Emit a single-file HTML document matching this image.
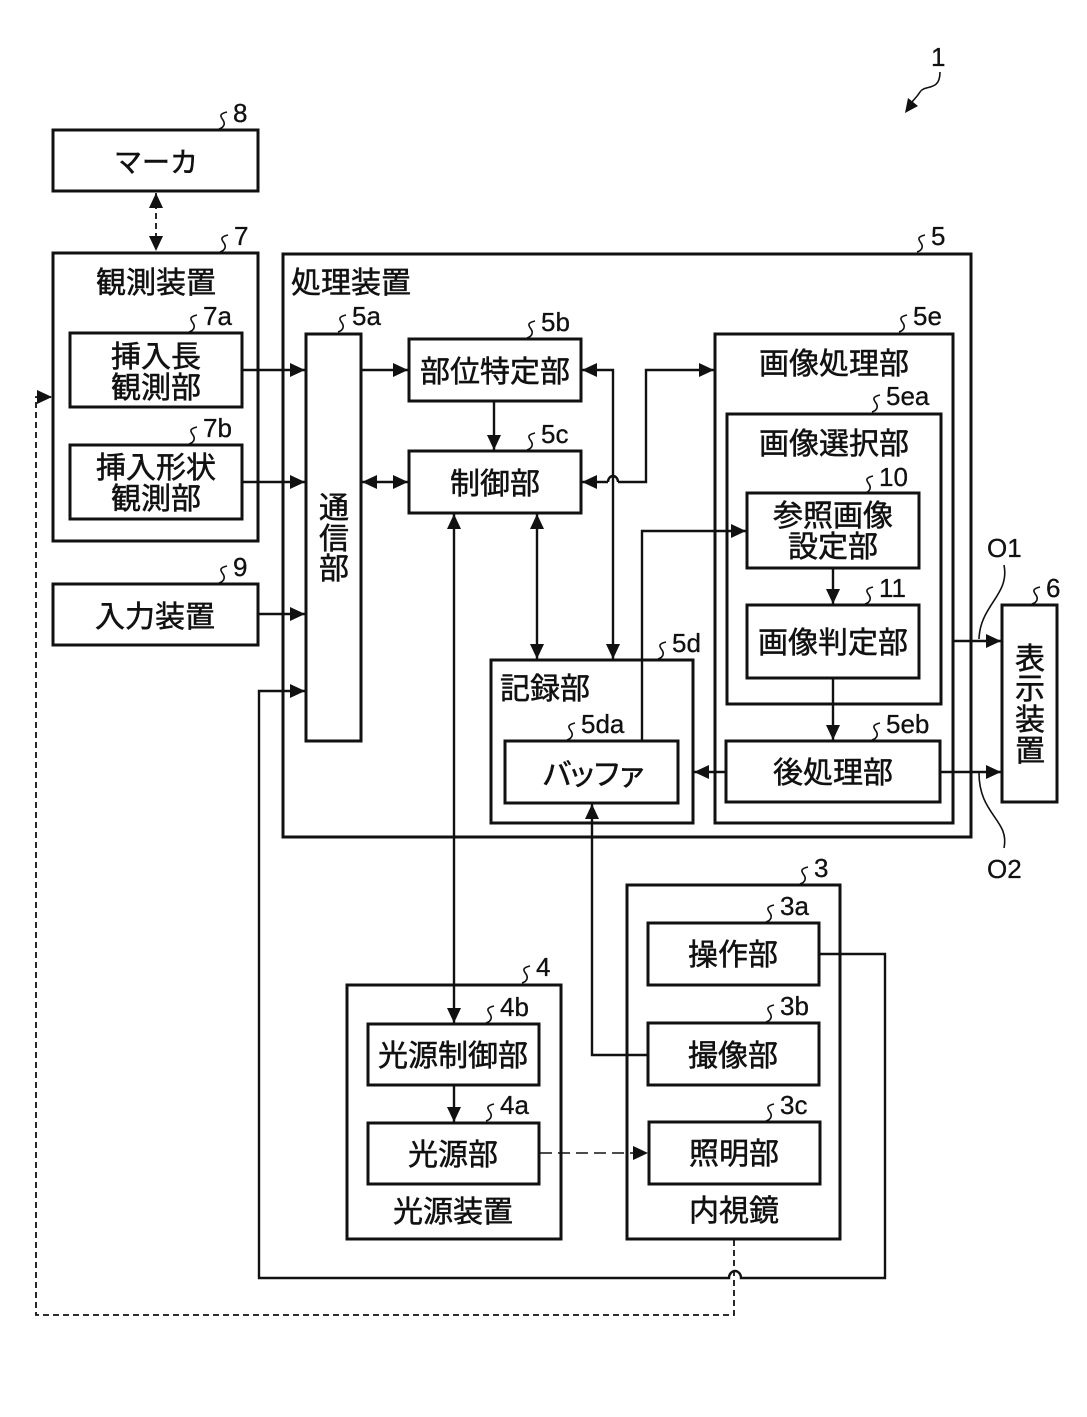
<!DOCTYPE html>
<html lang="ja"><head><meta charset="utf-8"><style>
html,body{margin:0;padding:0;background:#fff}
svg{display:block}
text{font-family:"Liberation Sans","Noto Sans CJK JP",sans-serif;fill:#111;text-anchor:middle}
.t{font-size:30px;stroke:#111;stroke-width:.5}
.k{font-size:28px;stroke:#111;stroke-width:.5}
.s{font-size:26px;text-anchor:start;stroke:#111;stroke-width:.3}
rect{fill:none;stroke:#111;stroke-width:3}
.l{fill:none;stroke:#111;stroke-width:2.4}
.d{fill:none;stroke:#111;stroke-width:1.8;stroke-dasharray:6 4}
.dd{fill:none;stroke:#111;stroke-width:1.6;stroke-dasharray:12 6}
.q{fill:none;stroke:#111;stroke-width:1.6}
</style></head><body>
<svg width="1087" height="1417" viewBox="0 0 1087 1417" xmlns="http://www.w3.org/2000/svg">
<defs>
<marker id="a" markerWidth="15" markerHeight="14" refX="15" refY="7" orient="auto-start-reverse" markerUnits="userSpaceOnUse"><path d="M0 0L15 7L0 14Z" fill="#111"/></marker>
<path id="q" class="q" d="M-6-10c-9 2-6 5-4 8s2 7-4 9"/>
</defs>
<!-- boxes -->
<rect x="53" y="130" width="205" height="61"/>
<rect x="53" y="253" width="205" height="288"/>
<rect x="70" y="333" width="172" height="74"/>
<rect x="70" y="445" width="172" height="74"/>
<rect x="53" y="584" width="205" height="61"/>
<rect x="283" y="254" width="688" height="583"/>
<rect x="306" y="334" width="55" height="407"/>
<rect x="409" y="339" width="172" height="62"/>
<rect x="409" y="451" width="172" height="62"/>
<rect x="491" y="660" width="202" height="163"/>
<rect x="505" y="741" width="173" height="62"/>
<rect x="715" y="334" width="238" height="489"/>
<rect x="727" y="414" width="214" height="290"/>
<rect x="747" y="493" width="172" height="75"/>
<rect x="747" y="605" width="172" height="73"/>
<rect x="726" y="741" width="214" height="61"/>
<rect x="1002" y="605" width="55" height="197"/>
<rect x="627" y="885" width="213" height="354"/>
<rect x="648" y="923" width="171" height="62"/>
<rect x="648" y="1023" width="171" height="62"/>
<rect x="649" y="1122" width="171" height="62"/>
<rect x="347" y="985" width="214" height="254"/>
<rect x="368" y="1024" width="171" height="61"/>
<rect x="368" y="1123" width="171" height="61"/>
<!-- box labels -->
<text class="k" x="156" y="172">マーカ</text>
<text class="t" x="156" y="293">観測装置</text>
<text class="t" x="156" y="367">挿入長</text>
<text class="t" x="156" y="398">観測部</text>
<text class="t" x="156" y="478">挿入形状</text>
<text class="t" x="156" y="509">観測部</text>
<text class="t" x="155" y="627">入力装置</text>
<text class="t" x="351" y="293">処理装置</text>
<text class="t" x="334" y="518">通</text>
<text class="t" x="334" y="549">信</text>
<text class="t" x="334" y="579">部</text>
<text class="t" x="495" y="382">部位特定部</text>
<text class="t" x="495" y="494">制御部</text>
<text class="t" x="545" y="699">記録部</text>
<text class="t" x="592" y="785" style="letter-spacing:-5px">バッファ</text>
<text class="t" x="834" y="374">画像処理部</text>
<text class="t" x="834" y="454">画像選択部</text>
<text class="t" x="833" y="526">参照画像</text>
<text class="t" x="833" y="557">設定部</text>
<text class="t" x="833" y="653">画像判定部</text>
<text class="t" x="833" y="783">後処理部</text>
<text class="t" x="1030" y="669">表</text>
<text class="t" x="1030" y="699">示</text>
<text class="t" x="1030" y="730">装</text>
<text class="t" x="1030" y="761">置</text>
<text class="t" x="733" y="965">操作部</text>
<text class="t" x="733" y="1066">撮像部</text>
<text class="t" x="734" y="1164">照明部</text>
<text class="t" x="734" y="1221">内視鏡</text>
<text class="t" x="453" y="1066">光源制御部</text>
<text class="t" x="453" y="1165">光源部</text>
<text class="t" x="453" y="1222">光源装置</text>
<!-- ref numbers -->
<text class="s" x="931" y="66">1</text>
<path class="q" d="M940 72C940 92 925 84 920 92S912 100 908 108"/>
<path d="M905 113L908 98L918 106Z" fill="#111"/>
<text class="s" x="233" y="122">8</text><use href="#q" x="233" y="122"/>
<text class="s" x="234" y="245">7</text><use href="#q" x="234" y="245"/>
<text class="s" x="203" y="325">7a</text><use href="#q" x="203" y="325"/>
<text class="s" x="203" y="437">7b</text><use href="#q" x="203" y="437"/>
<text class="s" x="233" y="576">9</text><use href="#q" x="233" y="576"/>
<text class="s" x="931" y="245">5</text><use href="#q" x="931" y="245"/>
<text class="s" x="352" y="325">5a</text><use href="#q" x="352" y="325"/>
<text class="s" x="541" y="331">5b</text><use href="#q" x="541" y="331"/>
<text class="s" x="541" y="443">5c</text><use href="#q" x="541" y="443"/>
<text class="s" x="672" y="652">5d</text><use href="#q" x="672" y="652"/>
<text class="s" x="581" y="733">5da</text><use href="#q" x="581" y="733"/>
<text class="s" x="913" y="325">5e</text><use href="#q" x="913" y="325"/>
<text class="s" x="886" y="405">5ea</text><use href="#q" x="886" y="405"/>
<text class="s" x="886" y="733">5eb</text><use href="#q" x="886" y="733"/>
<text class="s" x="879" y="486">10</text><use href="#q" x="879" y="486"/>
<text class="s" x="879" y="597">11</text><use href="#q" x="879" y="597"/>
<text class="s" x="1046" y="597">6</text><use href="#q" x="1046" y="597"/>
<text class="s" x="814" y="877">3</text><use href="#q" x="814" y="877"/>
<text class="s" x="780" y="915">3a</text><use href="#q" x="780" y="915"/>
<text class="s" x="780" y="1015">3b</text><use href="#q" x="780" y="1015"/>
<text class="s" x="780" y="1114">3c</text><use href="#q" x="780" y="1114"/>
<text class="s" x="536" y="976">4</text><use href="#q" x="536" y="976"/>
<text class="s" x="500" y="1016">4b</text><use href="#q" x="500" y="1016"/>
<text class="s" x="500" y="1114">4a</text><use href="#q" x="500" y="1114"/>
<text class="s" x="987" y="557">O1</text><path class="q" d="M1004 565C1010 595 980 605 979 639"/>
<text class="s" x="987" y="878">O2</text><path class="q" d="M1004 848C1010 820 979 815 979 773"/>
<!-- connectors -->
<path class="d" d="M156 193V251" marker-start="url(#a)" marker-end="url(#a)"/>
<path class="l" d="M242 370H305" marker-end="url(#a)"/>
<path class="l" d="M242 482H305" marker-end="url(#a)"/>
<path class="l" d="M258 614H305" marker-end="url(#a)"/>
<path class="l" d="M362 370H408" marker-end="url(#a)"/>
<path class="l" d="M362 482H408" marker-start="url(#a)" marker-end="url(#a)"/>
<path class="l" d="M494 401V450" marker-end="url(#a)"/>
<path class="l" d="M582 370H613V659" marker-start="url(#a)" marker-end="url(#a)"/>
<path class="l" d="M582 482H608M618 482H646V370H714" marker-start="url(#a)" marker-end="url(#a)"/>
<path class="l" d="M608 482a5 6 0 0 1 10 0"/>
<path class="l" d="M537 514V659" marker-start="url(#a)" marker-end="url(#a)"/>
<path class="l" d="M454 514V1023" marker-start="url(#a)" marker-end="url(#a)"/>
<path class="l" d="M642 741V531H746" marker-end="url(#a)"/>
<path class="l" d="M833 568V604" marker-end="url(#a)"/>
<path class="l" d="M833 678V740" marker-end="url(#a)"/>
<path class="l" d="M725 772H694" marker-end="url(#a)"/>
<path class="l" d="M941 772H1001" marker-end="url(#a)"/>
<path class="l" d="M953 641H1001" marker-end="url(#a)"/>
<path class="l" d="M647 1055H592V804" marker-end="url(#a)"/>
<path class="l" d="M454 1085V1122" marker-end="url(#a)"/>
<path class="dd" d="M540 1153H648" marker-end="url(#a)"/>
<path class="l" d="M819 954H885V1278H741a6 7 0 0 0 -12 0H259V691H305" marker-end="url(#a)"/>
<path class="d" d="M734 1240V1315H36V397H52" marker-end="url(#a)"/>
</svg>
</body></html>
